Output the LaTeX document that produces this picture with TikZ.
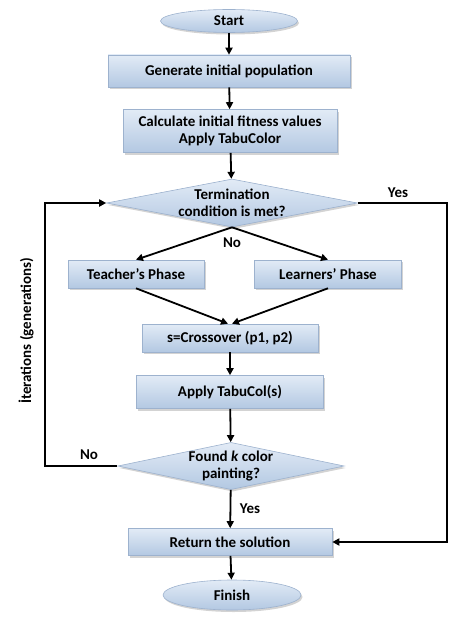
\documentclass[tikz,border=0pt]{standalone}
\usepackage{fontspec}
\setmainfont{Carlito}
\usetikzlibrary{shapes.geometric,arrows.meta,shadows}
\definecolor{boxtop}{HTML}{E2EBF6}
\definecolor{boxbot}{HTML}{B3C8E2}
\definecolor{boxedge}{HTML}{9DB2CE}
\tikzset{
  base/.style={draw=boxedge, line width=0.6pt, top color=boxtop, bottom color=boxbot,
    drop shadow={shadow xshift=1.5pt, shadow yshift=-2pt, opacity=0.35},
    font=\fontsize{15}{16.5}\selectfont\bfseries, align=center, inner sep=0pt},
  procbox/.style={base, rectangle},
  termnode/.style={base, ellipse},
  decide/.style={base, diamond},
  arr/.style={line width=1.8pt, -{Triangle[length=7pt,width=7pt]}},
  lbl/.style={font=\fontsize{15}{16.5}\selectfont\bfseries, inner sep=0pt}
}
\begin{document}
\begin{tikzpicture}[x=1pt,y=-1pt]
\useasboundingbox (0,0) rectangle (474,634);
\node[termnode, minimum width=137pt, minimum height=23pt] (start) at (229,21) {Start};
\node[procbox, minimum width=242pt, minimum height=32pt] (gen) at (229,71) {Generate initial population};
\node[procbox, minimum width=214pt, minimum height=43pt] (calc) at (230,131) {Calculate initial fitness values\\Apply TabuColor};
\node[decide, minimum width=251pt, minimum height=48pt, aspect=5.2] (term) at (232,203) {Termination\\condition is met?};
\node[procbox, minimum width=136pt, minimum height=28pt] (teach) at (136,274) {Teacher’s Phase};
\node[procbox, minimum width=147pt, minimum height=28pt] (learn) at (328,274) {Learners’ Phase};
\node[procbox, minimum width=176pt, minimum height=28pt] (cross) at (230,338) {s=Crossover (p1, p2)};
\node[procbox, minimum width=187pt, minimum height=33pt] (tabu) at (230,392) {Apply TabuCol(s)};
\node[decide, minimum width=217pt, minimum height=45pt, aspect=4.8] (found) at (231,466) {Found \textit{k} color\\painting?};
\node[procbox, minimum width=204pt, minimum height=27pt] (ret) at (230,542) {Return the solution};
\node[termnode, minimum width=138pt, minimum height=30pt] (fin) at (232,595) {Finish};

\coordinate (lx) at (45,0);
\coordinate (rx) at (447,0);

\draw[arr] (start) -- (gen);
\draw[arr] (gen) -- (calc);
\draw[arr] (calc) -- (term);
\draw[arr] (term.south) -- (teach.north);
\draw[arr] (term.south) -- (learn.north);
\draw[arr] (teach.south) -- ([xshift=-2pt]cross.north);
\draw[arr] (learn.south) -- ([xshift=2pt]cross.north);
\draw[arr] (cross) -- (tabu);
\draw[arr] (tabu) -- (found);
\draw[arr] (found) -- (ret);
\draw[arr] (ret) -- (fin);
\draw[arr] (found.west) -- (found.west -| lx) |- (term.west);
\draw[arr] (term.east) -- (term.east -| rx) |- (ret.east);

\node[lbl] (yes1) at (398,193) {Yes};
\node[lbl] (no1) at (232,243) {No};
\node[lbl] (no2) at (89,455) {No};
\node[lbl] (yes2) at (250,509) {Yes};
\node[lbl, rotate=90] (iter) at (26,331) {İterations (generations)};
\end{tikzpicture}
\end{document}
